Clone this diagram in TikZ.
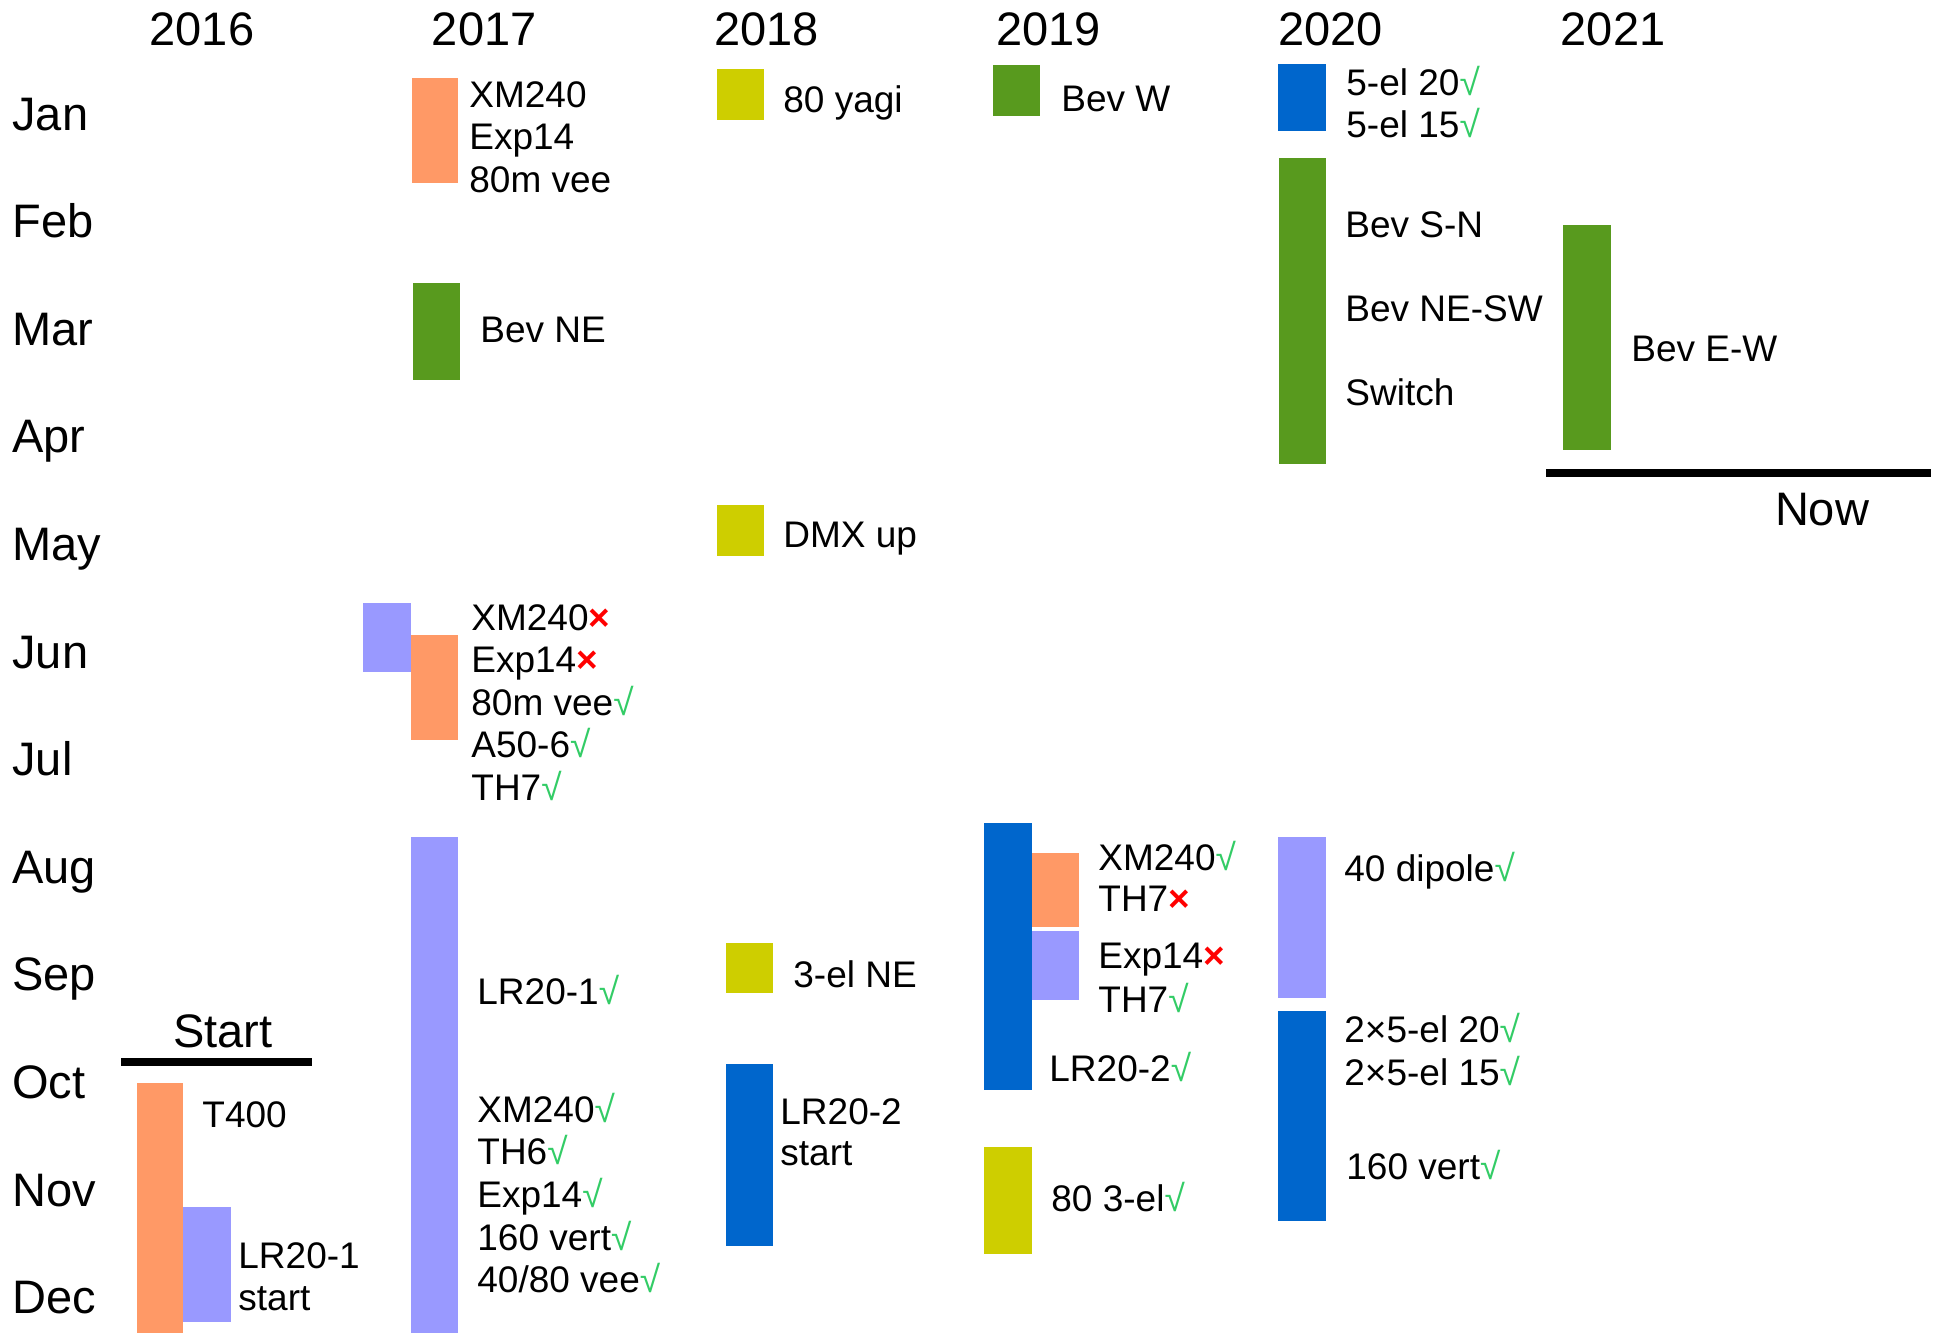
\documentclass[tikz,border=0pt]{standalone}
\usepackage{fontspec}
\setmainfont{Liberation Sans}
\usepackage{tikz}

\definecolor{barorange}{RGB}{255,153,102}
\definecolor{barlilac}{RGB}{153,153,255}
\definecolor{barblue}{RGB}{0,102,204}
\definecolor{bargreen}{RGB}{88,154,30}
\definecolor{baryellow}{RGB}{206,206,0}
\definecolor{tickgreen}{RGB}{51,204,102}

\newcommand{\okmark}{\textcolor{tickgreen}{√}}
\newcommand{\xmark}{\textcolor{red}{\textbf{×}}}

\begin{document}
\begin{tikzpicture}[x=0.5pt, y=-0.5pt,
    lbl/.style={anchor=base west, inner sep=0pt, font=\fontsize{18.5}{22}\selectfont},
    big/.style={inner sep=0pt, font=\fontsize{23.5}{28}\selectfont}]
    \useasboundingbox (0,0) rectangle (1939,1333);

    % Years along the top
    \foreach \yr [count=\i from 0] in {2016,2017,2018,2019,2020,2021}
        \node[big, anchor=base] (yr\yr) at (202+282.2*\i, 45) {\yr};

    % Months down the left side
    \foreach \mon [count=\i from 0] in {Jan,Feb,Mar,Apr,May,Jun,Jul,Aug,Sep,Oct,Nov,Dec}
        \node[big, anchor=base west] (mon\mon) at (12, 130+107.6*\i) {\mon};

    % 2016 - start
    \draw[line width=4pt] (121,1062) -- (312,1062);
    \node[big, anchor=base] (start) at (223,1047) {Start};
    \fill[barorange] (137,1083) rectangle (183,1333);
    \node[lbl] (t400) at (202,1127) {T400};
    \fill[barlilac] (183,1207) rectangle (231,1322);
    \node[lbl] (lrA) at (238,1268) {LR20-1};
    \node[lbl] (lrAs) at (238,1310) {start};

    % 2017
    \fill[barorange] (412,78) rectangle (458,183);
    \foreach \txt [count=\i from 0] in {XM240,Exp14,80m vee}
        \node[lbl] (jan17-\i) at (469, 107+42.5*\i) {\txt};
    \fill[bargreen] (413,283) rectangle (460,380);
    \node[lbl] (bevne) at (480,342) {Bev NE};
    \fill[barlilac] (363,603) rectangle (411,672);
    \fill[barorange] (411,635) rectangle (458,740);
    \foreach \txt [count=\i from 0] in {XM240\xmark,Exp14\xmark,80m vee\okmark,A50-6\okmark,TH7\okmark}
        \node[lbl] (jun17-\i) at (471, 630+42.5*\i) {\txt};
    \fill[barlilac] (411,837) rectangle (458,1333);
    \node[lbl] (lrAok) at (477,1004) {LR20-1\okmark};
    \foreach \txt [count=\i from 0] in {XM240\okmark,TH6\okmark,Exp14\okmark,160 vert\okmark,40/80 vee\okmark}
        \node[lbl] (aug17-\i) at (477, 1122+42.7*\i) {\txt};

    % 2018
    \fill[baryellow] (717,69) rectangle (764,120);
    \node[lbl] (yagi) at (783,112) {80 yagi};
    \fill[baryellow] (717,505) rectangle (764,556);
    \node[lbl] (dmx) at (783,547) {DMX up};
    \fill[baryellow] (726,943) rectangle (773,993);
    \node[lbl] (threene) at (793,987) {3-el NE};
    \fill[barblue] (726,1064) rectangle (773,1246);
    \node[lbl] (lrB) at (780,1124) {LR20-2};
    \node[lbl] (lrBs) at (780,1165) {start};

    % 2019
    \fill[bargreen] (993,65) rectangle (1040,116);
    \node[lbl] (bevw) at (1061,111) {Bev W};
    \fill[barblue] (984,823) rectangle (1032,1090);
    \fill[barorange] (1032,853) rectangle (1079,927);
    \fill[barlilac] (1032,931) rectangle (1079,1000);
    \node[lbl] (aug19-0) at (1098,870) {XM240\okmark};
    \node[lbl] (aug19-1) at (1098,911) {TH7\xmark};
    \node[lbl] (sep19-0) at (1098,968) {Exp14\xmark};
    \node[lbl] (sep19-1) at (1098,1012) {TH7\okmark};
    \node[lbl] (lrBok) at (1049,1081) {LR20-2\okmark};
    \fill[baryellow] (984,1147) rectangle (1032,1254);
    \node[lbl] (threeel) at (1051,1211) {80 3-el\okmark};

    % 2020
    \fill[barblue] (1278,64) rectangle (1326,131);
    \node[lbl] (five20) at (1346,95) {5-el 20\okmark};
    \node[lbl] (five15) at (1346,137) {5-el 15\okmark};
    \fill[bargreen] (1279,158) rectangle (1326,464);
    \node[lbl] (bevsn) at (1345,237) {Bev S-N};
    \node[lbl] (bevnesw) at (1345,321) {Bev NE-SW};
    \node[lbl] (switch) at (1345,405) {Switch};
    \fill[barlilac] (1278,837) rectangle (1326,998);
    \node[lbl] (dipole) at (1344,881) {40 dipole\okmark};
    \fill[barblue] (1278,1011) rectangle (1326,1221);
    \node[lbl] (twofive20) at (1344,1042) {2×5-el 20\okmark};
    \node[lbl] (twofive15) at (1344,1085) {2×5-el 15\okmark};
    \node[lbl] (vert160) at (1346,1179) {160 vert\okmark};

    % 2021 - now
    \fill[bargreen] (1563,225) rectangle (1611,450);
    \node[lbl] (bevew) at (1631,361) {Bev E-W};
    \draw[line width=4pt] (1546,473) -- (1931,473);
    \node[big, anchor=base] (now) at (1822,525) {Now};
\end{tikzpicture}
\end{document}
